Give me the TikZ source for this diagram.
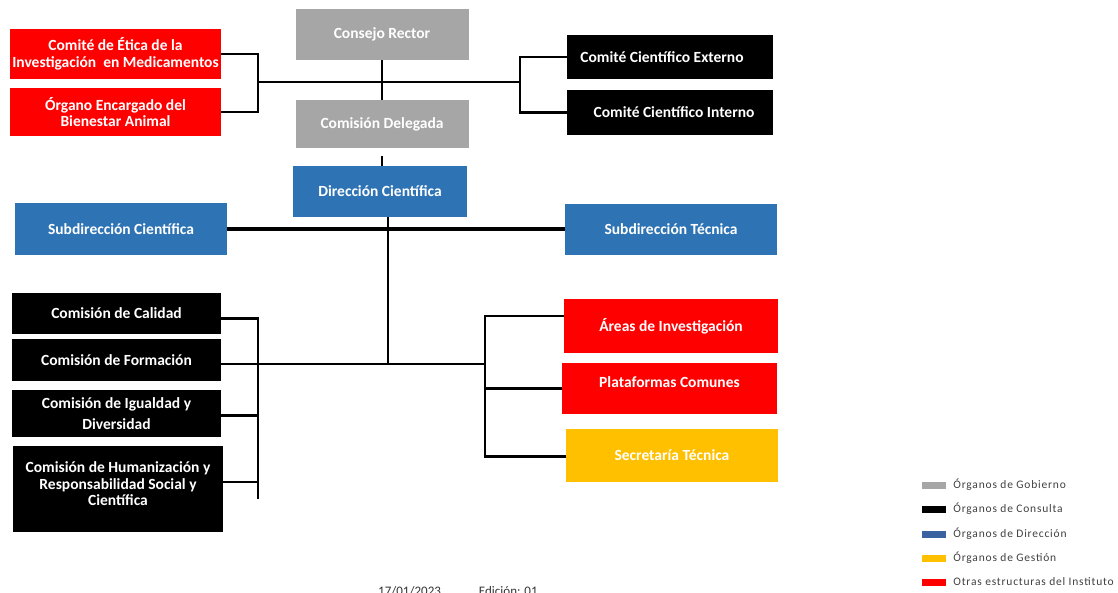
\documentclass[tikz,border=0pt]{standalone}
\usepackage{fontspec}
\setmainfont{Carlito}
\usepackage{tikz}
\usetikzlibrary{positioning}
\definecolor{gris}{HTML}{A6A6A6}
\definecolor{azul}{HTML}{2E74B5}
\definecolor{azulley}{HTML}{3A62A0}
\definecolor{rojo}{HTML}{FF0000}
\definecolor{amarillo}{HTML}{FFC000}
\tikzstyle{organo} = [rectangle, inner sep=2pt, align=center, text=white, font=\bfseries\fontsize{15.5}{16.5}\selectfont]
\tikzstyle{gobierno} = [organo, fill=gris]
\tikzstyle{consulta} = [organo, fill=black]
\tikzstyle{direccion} = [organo, fill=azul]
\tikzstyle{gestion} = [organo, fill=amarillo]
\tikzstyle{otras} = [organo, fill=rojo]
\tikzstyle{link} = [line width=2.6pt]
\tikzstyle{swatch} = [rectangle, minimum width=24pt, minimum height=7pt, inner sep=0pt]
\tikzstyle{leyenda} = [anchor=west, inner sep=0pt, text=black!75, font=\fontsize{11.5}{13}\selectfont\addfontfeatures{LetterSpace=7}]

\begin{document}
\begin{tikzpicture}[x=1pt, y=-1pt]
\useasboundingbox (0,0) rectangle (1118,592);
% gobierno
\node (consejo_rector) [gobierno, minimum width=173pt, minimum height=51pt] at (382,34.5) {Consejo Rector};
\node (comision_delegada) [gobierno, minimum width=173pt, minimum height=48pt] at (382,124) {Comisión Delegada};
% comites
\node (comite_etica) [otras, minimum width=211pt, minimum height=50pt] at (115.5,54) {Comité de Ética de la\\Investigación\ \ en Medicamentos};
\node (organo_bienestar) [otras, minimum width=211pt, minimum height=48pt] at (115.5,112) {Órgano Encargado del\\Bienestar Animal};
\node (cc_externo) [consulta, minimum width=206pt, minimum height=44pt] at (670,57) {Comité Científico Externo\hspace{16pt}};
\node (cc_interno) [consulta, minimum width=206pt, minimum height=45pt] at (670,112.5) {\hspace{8pt}Comité Científico Interno};
% direccion
\node (direccion) [direccion, minimum width=174pt, minimum height=51pt] at (380,191.5) {Dirección Científica};
\node (subdir_cientifica) [direccion, minimum width=212pt, minimum height=52pt] at (121,229) {Subdirección Científica};
\node (subdir_tecnica) [direccion, minimum width=212pt, minimum height=51pt] at (671,229) {Subdirección Técnica};
% comisiones
\node (com_calidad) [consulta, minimum width=209pt, minimum height=41pt] at (116.5,313.5) {Comisión de Calidad};
\node (com_formacion) [consulta, minimum width=209pt, minimum height=42pt] at (116.5,360) {Comisión de Formación};
\node (com_igualdad) [consulta, minimum width=209pt, minimum height=47pt] at (116.5,413.5) {Comisión de Igualdad y\\[4pt]Diversidad};
\node (com_humanizacion) [consulta, minimum width=210pt, minimum height=86pt] at (118,489) {Comisión de Humanización y\\Responsabilidad Social y\\Científica\\[-6pt]};
% otras estructuras
\node (areas) [otras, minimum width=214pt, minimum height=54pt] at (671,326) {Áreas de Investigación};
\node (plataformas) [otras, minimum width=215pt, minimum height=51pt] at (669.5,388.5) {Plataformas Comunes\\[-3pt]};
\node (secretaria) [gestion, minimum width=212pt, minimum height=53pt] at (672,455.5) {\\[-6pt]Secretaría Técnica};

% junctions
\coordinate (j_izq) at (258,82);
\coordinate (j_der) at (520,82);
\coordinate (j_tick) at (382,156);
\coordinate (j_centro) at (388,364);
\coordinate (j_com) at (258,499);
\coordinate (j_otras) at (485,364);

\draw[link] (comite_etica.east) -- (comite_etica.east -| j_izq) -- (organo_bienestar.east -| j_izq) -- (organo_bienestar.east);
\draw[link] (j_izq) -- (j_der);
\draw[link] (cc_externo.west) -- (cc_externo.west -| j_der) -- (cc_interno.west -| j_der) -- (cc_interno.west);
\draw[link] (consejo_rector.south) -- (comision_delegada.north);
\draw[link] (j_tick) -- (j_tick |- direccion.north);

\draw[link, line width=3.4pt] (subdir_cientifica.east) -- (subdir_tecnica.west);
\draw[link] (direccion.south -| j_centro) -- (j_centro);
\draw[link] (com_formacion.east |- j_centro) -- (j_otras);

\draw[link] ([yshift=-5pt]com_calidad.east) -- ([yshift=-5pt]com_calidad.east -| j_com) -- (j_com);
\draw[link] ([yshift=-2pt]com_igualdad.east) -- ([yshift=-2pt]com_igualdad.east -| j_com);
\draw[link] ([yshift=7pt]com_humanizacion.east) -- ([yshift=7pt]com_humanizacion.east -| j_com);

\draw[link] ([yshift=10pt]areas.west) -- ([yshift=10pt]areas.west -| j_otras) -- ([yshift=-1pt]secretaria.west -| j_otras) -- ([yshift=-1pt]secretaria.west);
\draw[link] (plataformas.west) -- (plataformas.west -| j_otras);

% leyenda
\node (sw_gobierno) [swatch, fill=gris] at (934,485) {};
\node (sw_consulta) [swatch, fill=black] at (934,509) {};
\node (sw_direccion) [swatch, fill=azulley] at (934,534) {};
\node (sw_gestion) [swatch, fill=amarillo] at (934,558) {};
\node (sw_otras) [swatch, fill=rojo] at (934,582) {};
\node (ley_gobierno) [leyenda, right=7pt of sw_gobierno] {Órganos de Gobierno};
\node (ley_consulta) [leyenda, right=7pt of sw_consulta] {Órganos de Consulta};
\node (ley_direccion) [leyenda, right=7pt of sw_direccion] {Órganos de Dirección};
\node (ley_gestion) [leyenda, right=7pt of sw_gestion] {Órganos de Gestión};
\node (ley_otras) [leyenda, right=7pt of sw_otras] {Otras estructuras del Instituto};

% pie (cortado)
\node (pie) [anchor=north west, inner sep=0pt, text=black!80, font=\fontsize{13}{15}\selectfont] at (378,586) {17/01/2023\hspace{38pt}Edición: 01};
\end{tikzpicture}
\end{document}
